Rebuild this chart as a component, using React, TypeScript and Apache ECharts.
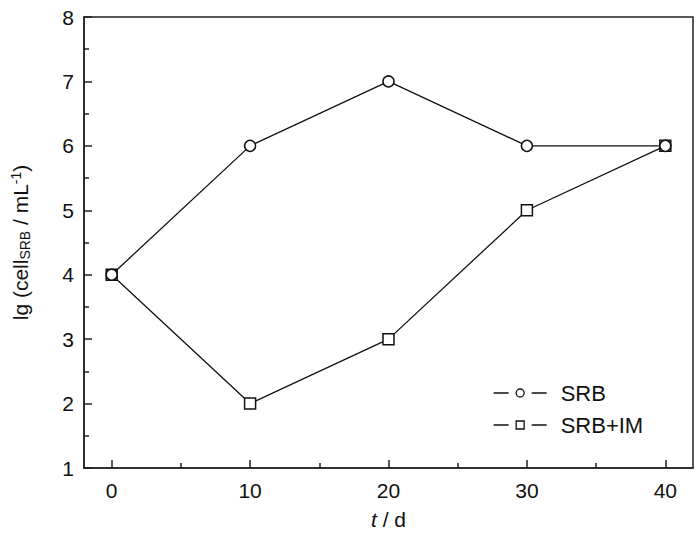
import React, { useEffect, useRef } from "react";
import * as echarts from "echarts";

const days = [0, 10, 20, 30, 40];
const srb = [4, 6, 7, 6, 6];
const srbIm = [4, 2, 3, 5, 6];
const xMajorTicks = [0, 10, 20, 30, 40];
const xMinorTicks = [5, 15, 25, 35];
const seriesNames = ["SRB", "SRB+IM"];

const FONT = "Liberation Sans, Arial, sans-serif";

const circleIcon =
  "path://M0,6 L15,6 M38,6 L53,6 M30.5,6 A4,4 0 1 1 22.5,6 A4,4 0 1 1 30.5,6 Z";
const rectIcon =
  "path://M0,6 L15,6 M38,6 L53,6 M22.5,2 L30.5,2 L30.5,10 L22.5,10 Z";

export default function App() {
  const ref = useRef<HTMLDivElement>(null);
  useEffect(() => {
    if (!ref.current) return;
    const chart = echarts.init(ref.current, null, { renderer: "svg" });
    const toPairs = (ys: number[]) => days.map((d, i) => [d, ys[i]]);
    chart.setOption({
      animation: false,
      backgroundColor: "#fff",
      textStyle: { fontFamily: FONT },
      grid: {
        left: 84,
        top: 17,
        right: 7,
        bottom: 66,
        show: true,
        borderColor: "#222",
        borderWidth: 1.5,
        containLabel: false,
      },
      legend: {
        orient: "vertical",
        left: 493,
        top: 382,
        padding: 0,
        itemWidth: 53,
        itemHeight: 8,
        itemGap: 10,
        itemStyle: { color: "#fff", borderColor: "#111", borderWidth: 1.3 },
        textStyle: {
          fontSize: 22,
          lineHeight: 22,
          color: "#111",
          fontFamily: FONT,
          padding: [0, 0, 0, 9],
        },
        data: [
          { name: seriesNames[0], icon: circleIcon },
          { name: seriesNames[1], icon: rectIcon },
        ],
      },
      xAxis: [
        {
          type: "value",
          min: -2,
          max: 42,
          position: "bottom",
          splitLine: { show: false },
          axisLine: { show: true, onZero: false, lineStyle: { color: "#222", width: 1.5 } },
          axisTick: {
            show: true,
            inside: true,
            length: 8,
            customValues: xMajorTicks,
            lineStyle: { color: "#222", width: 1.5 },
          },
          axisLabel: {
            customValues: xMajorTicks,
            fontSize: 21,
            color: "#111",
            margin: 12,
            fontFamily: FONT,
          },
          name: "{i|t} / d",
          nameLocation: "middle",
          nameGap: 41,
          nameTextStyle: {
            fontSize: 21,
            color: "#111",
            fontFamily: FONT,
            rich: {
              i: { fontStyle: "italic", fontSize: 21, color: "#111", fontFamily: FONT },
            },
          },
        },
        {
          type: "value",
          min: -2,
          max: 42,
          position: "bottom",
          splitLine: { show: false },
          axisLine: { show: false, onZero: false },
          axisLabel: { show: false },
          axisTick: {
            show: true,
            inside: true,
            length: 5,
            customValues: xMinorTicks,
            lineStyle: { color: "#222", width: 1.5 },
          },
        },
      ],
      yAxis: {
        type: "value",
        min: 1,
        max: 8,
        interval: 1,
        splitLine: { show: false },
        axisLine: { show: true, onZero: false, lineStyle: { color: "#222", width: 1.5 } },
        axisTick: { show: true, inside: true, length: 8, lineStyle: { color: "#222", width: 1.5 } },
        minorTick: { show: true, splitNumber: 2, length: 5, lineStyle: { color: "#222", width: 1.5 } },
        minorSplitLine: { show: false },
        axisLabel: { fontSize: 21, color: "#111", margin: 10, fontFamily: FONT },
        name: "lg (cell{sub|SRB} / mL{sup|-1})",
        nameLocation: "middle",
        nameGap: 52,
        nameTextStyle: {
          fontSize: 21,
          color: "#111",
          fontFamily: FONT,
          rich: {
            sub: { fontSize: 14, verticalAlign: "bottom", padding: [9, 0, 0, 0], color: "#111", fontFamily: FONT },
            sup: { fontSize: 14, verticalAlign: "top", padding: [0, 0, 9, 0], color: "#111", fontFamily: FONT },
          },
        },
      },
      series: [
        {
          name: seriesNames[0],
          type: "line",
          data: toPairs(srb),
          symbol: "circle",
          symbolSize: 11,
          itemStyle: { color: "#fff", borderColor: "#111", borderWidth: 1.5 },
          lineStyle: { color: "#111", width: 1.3 },
          z: 3,
        },
        {
          name: seriesNames[1],
          type: "line",
          data: toPairs(srbIm),
          symbol: "rect",
          symbolSize: 11,
          itemStyle: { color: "#fff", borderColor: "#111", borderWidth: 1.5 },
          lineStyle: { color: "#111", width: 1.3 },
          z: 2,
        },
      ],
    });
    return () => chart.dispose();
  }, []);
  return <div ref={ref} style={{ width: 700, height: 535, position: "absolute", left: 0, top: 0 }} />;
}
